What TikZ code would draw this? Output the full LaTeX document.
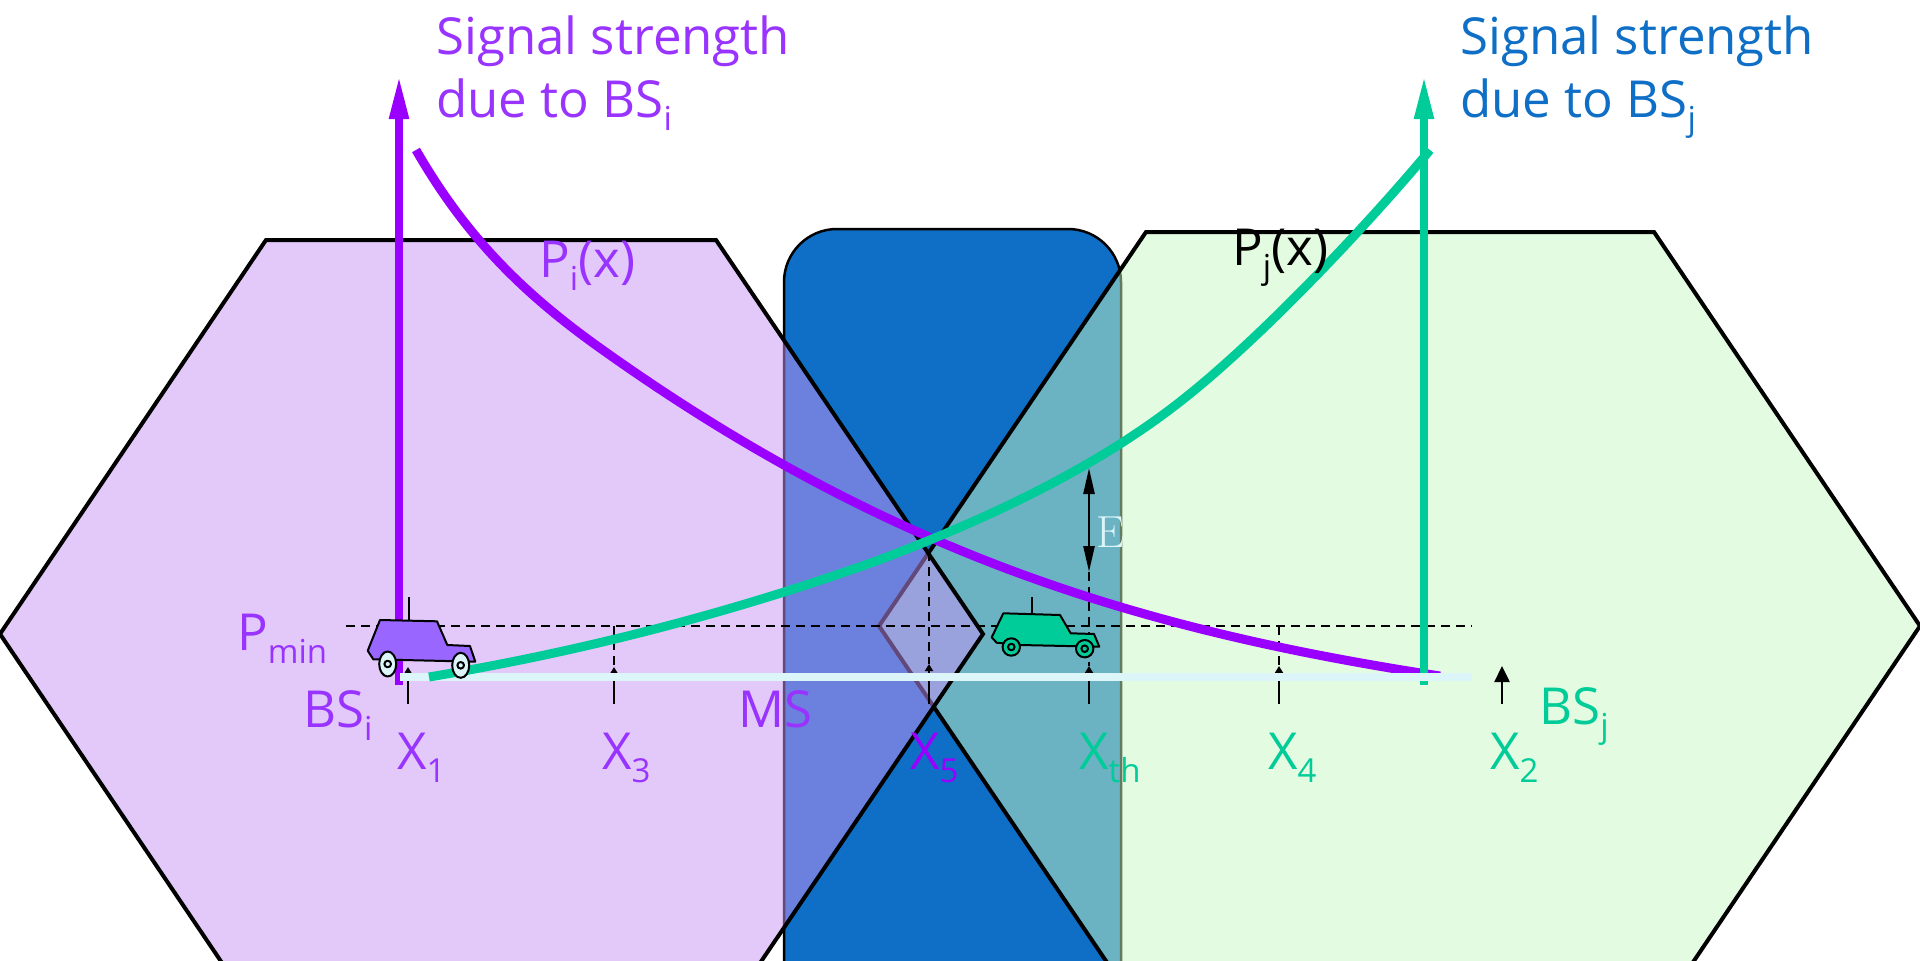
\documentclass[tikz,border=0pt]{standalone}
\usepackage{fontspec}
\setmainfont{Open Sans}
\usetikzlibrary{arrows.meta}
\definecolor{vio}{RGB}{153,0,255}
\definecolor{vtxt}{RGB}{153,51,255}
\definecolor{vcar}{RGB}{153,102,255}
\definecolor{grn}{RGB}{0,204,153}
\definecolor{blu}{RGB}{15,111,198}
\definecolor{pale}{RGB}{219,245,249}
\definecolor{hexl}{RGB}{199,147,245}
\definecolor{hexr}{RGB}{199,247,193}
\newcommand\sbs[1]{\raisebox{-13pt}{\fontsize{33}{33}\selectfont #1}}
\tikzset{
  lab/.style={anchor=base west,inner sep=0pt,font=\fontsize{51}{51}\selectfont},
  hexfill/.style={line width=4pt,draw=black,fill opacity=.5,draw opacity=1},
  axisline/.style={line width=8pt},
  curveline/.style={line width=9pt},
  dashline/.style={line width=2pt,dash pattern=on 9pt off 6pt},
  tickarrow/.style={line width=2.5pt,-{Triangle[length=7pt,width=8pt]}},
  carbody/.style={draw=black,line width=2pt,line join=round},
}
\begin{document}
\begin{tikzpicture}[x=1pt,y=-1pt]
\useasboundingbox (0,0) rectangle (1920,961);
\begin{scope}
\clip (0,0) rectangle (1920,961);
\draw[fill=blu,draw=black,line width=2.5pt,rounded corners=53pt] (784,1100) -- (784,229) -- (1121,229) -- (1121,1100) -- cycle;
\draw[hexfill,fill=hexr] (879,626) -- (1146,232) -- (1654,232) -- (1920,626) -- (1654,1020) -- (1146,1020) -- cycle;
\draw[hexfill,fill=hexl] (0,634) -- (266,240) -- (716,240) -- (983,634) -- (716,1028) -- (266,1028) -- cycle;
\end{scope}
% dashed guides
\coordinate (dl) at (346,626); \coordinate (dr) at (1472,626);
\draw[dashline] (dl) -- (dr);
\coordinate (x3t) at (614,626); \coordinate (x3a) at (614,667); \coordinate (x3b) at (614,704);
\coordinate (x5t) at (929,552); \coordinate (x5a) at (929,664); \coordinate (x5b) at (929,704);
\coordinate (xtt) at (1089,572); \coordinate (xta) at (1089,666); \coordinate (xtb) at (1089,704);
\coordinate (x4t) at (1279,626); \coordinate (x4a) at (1279,666); \coordinate (x4b) at (1279,704);
\coordinate (x1a) at (408,667); \coordinate (x1b) at (408,704);
\coordinate (x2a) at (1502,666); \coordinate (x2b) at (1502,704);
\coordinate (ea) at (1089,468);
\draw[dashline] (x3t) -- (x3a); \draw[dashline] (x5t) -- (x5a); \draw[dashline] (xtt) -- (xta); \draw[dashline] (x4t) -- (x4a);
\draw[tickarrow] (x1b) -- (x1a);
\draw[tickarrow] (x3b) -- (x3a);
\draw[tickarrow] (x5b) -- (x5a);
\draw[tickarrow] (xtb) -- (xta);
\draw[tickarrow] (x4b) -- (x4a);
\draw[line width=2.5pt,-{Triangle[length=16pt,width=15pt]}] (x2b) -- (x2a);
\draw[line width=2.5pt,{Triangle[length=26pt,width=11pt]}-{Triangle[length=26pt,width=11pt]}] (xtt) -- (ea);
% axes and curves
\coordinate (ap0) at (399,685); \coordinate (ap1) at (399,75);
\coordinate (ag0) at (1424,685); \coordinate (ag1) at (1424,75);
\draw[axisline,vio,-{Triangle[length=44pt,width=18pt]}] (ap0) -- (ap1);
\coordinate (pa) at (416,150); \coordinate (pb) at (593,343); \coordinate (pc) at (929,537); \coordinate (pd) at (1440,676);
\draw[curveline,vio] (pa) .. controls (465,235) and (520,290) .. (pb) .. controls (700,420) and (810,485) .. (pc) .. controls (1100,612) and (1270,650) .. (pd);
\draw[axisline,grn,-{Triangle[length=44pt,width=18pt]}] (ag0) -- (ag1);
\coordinate (hl) at (400,677); \coordinate (hr) at (1472,677);
\draw[line width=8pt,pale] (hl) -- (hr);
\coordinate (ga) at (429,677); \coordinate (gb) at (879,560); \coordinate (gc) at (1186,397); \coordinate (gd) at (1430,150);
\draw[curveline,grn] (ga) .. controls (590,650) and (740,610) .. (gb) .. controls (990,518) and (1100,466) .. (gc) .. controls (1265,334) and (1370,222) .. (gd);
% purple car
\draw[line width=2pt] (408.7,620) -- (408.7,596.7);
\draw[carbody,fill=vcar] (380,620) -- (437,621.3) -- (447.3,645) -- (470,646) -- (475.3,661.7) -- (373.3,659.3) -- (367.7,650.7) -- cycle;
\draw[carbody,fill=pale] (387.7,664) ellipse (8.5 and 12.5);
\draw[carbody,fill=pale] (460.7,665.3) ellipse (8.5 and 12.5);
\draw[carbody,fill=pale] (387.7,664) circle (3.3);
\draw[carbody,fill=pale] (460.7,665.3) circle (3.3);
% green car
\draw[line width=2pt] (1032,613.3) -- (1032,596.7);
\draw[carbody,fill=grn] (1003.3,613.3) -- (1060,615) -- (1070.7,633.3) -- (1094,634) -- (1099.3,646.7) -- (1020,645) -- (996.7,642.7) -- (991.7,637.3) -- cycle;
\draw[carbody,fill=grn] (1011.3,647) circle (8.7);
\draw[carbody,fill=grn] (1084.7,648.7) circle (8.7);
\draw[carbody,fill=grn] (1011.3,647) circle (3.3);
\draw[carbody,fill=grn] (1084.7,648.7) circle (3.3);
% labels
\node[lab,vtxt] (t1) at (436,54) {Signal strength};
\node[lab,vtxt] (t2) at (436,117) {due to BS\sbs{i}};
\node[lab,blu] (t3) at (1460,54) {Signal strength};
\node[lab,blu] (t4) at (1460,117) {due to BS\sbs{j}};
\node[lab,vtxt] (pi) at (539,277) {P\sbs{i}(x)};
\node[lab,black] (pj) at (1232,265) {P\sbs{j}(x)};
\node[lab,vtxt] (pm) at (237,650) {P\sbs{min}};
\node[lab,vtxt] (bi) at (303,727) {BS\sbs{i}};
\node[lab,vtxt] (ms) at (738,727) {MS};
\node[lab,vtxt] (x1) at (397,769) {X\sbs{1}};
\node[lab,vtxt] (x3) at (602,769) {X\sbs{3}};
\node[lab,vio] (x5) at (910,769) {X\sbs{5}};
\node[lab,grn] (xt) at (1079,769) {X\sbs{th}};
\node[lab,grn] (x4) at (1268,769) {X\sbs{4}};
\node[lab,grn] (x2) at (1490,769) {X\sbs{2}};
\node[lab,grn] (bj) at (1539,724) {BS\sbs{j}};
\node[anchor=base west,inner sep=0pt,pale,font=\fontfamily{lmr}\fontsize{45}{45}\selectfont] (e) at (1096,547) {E};
\end{tikzpicture}
\end{document}
